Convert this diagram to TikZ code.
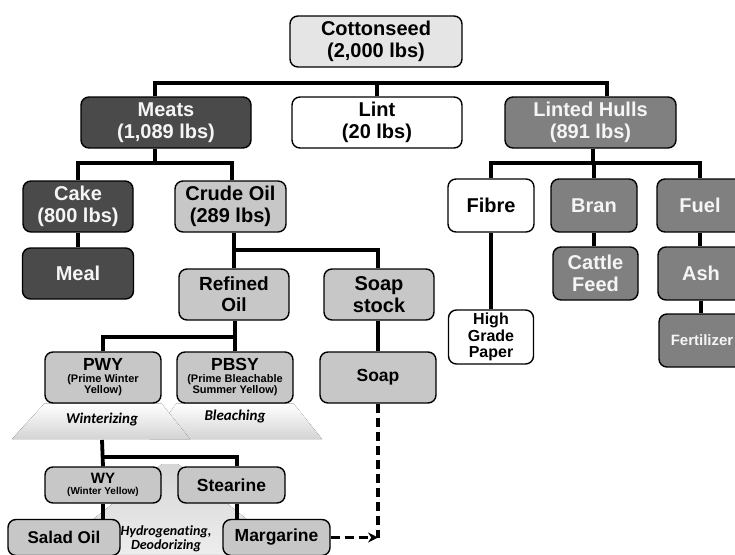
\documentclass[tikz,border=0pt]{standalone}
\usepackage{fontspec}
\setmainfont{Liberation Sans}
\newfontfamily\calibfont[Ligatures=NoCommon]{Carlito}
\usetikzlibrary{arrows.meta,backgrounds}

\definecolor{seedfill}{rgb}{0.900000, 0.900000, 0.900000}
\definecolor{darkfill}{rgb}{0.290000, 0.290000, 0.290000}
\definecolor{midfill}{rgb}{0.500000, 0.500000, 0.500000}
\definecolor{lightfill}{rgb}{0.780000, 0.780000, 0.780000}
\definecolor{softwhite}{rgb}{0.960000, 0.960000, 0.960000}

\newcommand{\tinyline}{\fontsize{11}{11}\selectfont}
\newcommand{\midline}{\fontsize{17.5}{20}\selectfont}

\tikzset{
  box/.style={draw=black, line width=1.4pt, rounded corners=8pt, align=center,
    inner sep=0pt, font=\bfseries\fontsize{20}{22}\selectfont},
  wh/.style 2 args={minimum width=#1pt, minimum height=#2pt},
  darkbox/.style={box, fill=darkfill, text=softwhite},
  midbox/.style={box, fill=midfill, text=softwhite},
  lightbox/.style={box, fill=lightfill},
  whitebox/.style={box, fill=white},
  link/.style={line width=3.8pt, black},
  dashlink/.style={line width=3.4pt, black, dash pattern=on 9pt off 5pt},
  procshade/.style={top color=white, bottom color=black!17, draw=none},
  procname/.style={font=\calibfont\bfseries\itshape\fontsize{15}{15}\selectfont, align=center},
}

\begin{document}
\begin{tikzpicture}[x=1pt, y=-1pt]
\useasboundingbox (0,0) rectangle (735,554);

% top
\node[box, fill=seedfill, wh={172}{51}] (cottonseed) at (376,41.5) {Cottonseed\\(2,000 lbs)};
\node[darkbox, wh={170}{51}] (meats) at (166,122.5) {Meats\\(1,089 lbs)};
\node[whitebox, wh={170}{51}] (lint) at (377,122.5) {Lint\\(20 lbs)};
\node[midbox, wh={171}{51}] (hulls) at (590.5,122.5) {Linted Hulls\\(891 lbs)};

% meats side
\node[darkbox, wh={110}{51}] (cake) at (78,206.5) {Cake\\(800 lbs)};
\node[darkbox, wh={111}{51}] (meal) at (78,273.5) {Meal};
\node[lightbox, wh={111}{51}] (crude) at (230.5,206.5) {Crude Oil\\(289 lbs)};
\node[lightbox, wh={110}{51}, font=\bfseries\fontsize{19}{21}\selectfont] (refined) at (234,294.5) {Refined\\Oil};
\node[lightbox, wh={110}{51}] (soapstock) at (379,294.5) {Soap\\stock};
\node[lightbox, wh={116}{51}, font=\bfseries\midline] (soap) at (378,377.5) {Soap};

% hulls side
\node[whitebox, wh={86}{53}] (fibre) at (491,205.5) {Fibre};
\node[whitebox, wh={85}{54}, font=\bfseries\fontsize{16}{16.5}\selectfont] (paper) at (491,337) {High\\Grade\\Paper};
\node[midbox, wh={86}{53}] (bran) at (594,205.5) {Bran};
\node[midbox, wh={85}{53}] (cattle) at (595.5,273.5) {Cattle\\Feed};
\node[midbox, wh={86}{53}] (fuel) at (700,205.5) {Fuel};
\node[midbox, wh={86}{53}] (ash) at (701,273.5) {Ash};
\node[midbox, wh={86}{53}, font=\bfseries\fontsize{15}{17}\selectfont] (fertilizer) at (702,340.5) {Fertilizer};

% oil grades
\node[lightbox, wh={116}{51}, font=\bfseries\tinyline] (pwy) at (103,377.5) {\midline PWY\\[1pt]\tinyline (Prime Winter\\\tinyline Yellow)};
\node[lightbox, wh={116}{51}, font=\bfseries\tinyline] (pbsy) at (235,377.5) {\midline PBSY\\[1pt]\tinyline (Prime Bleachable\\\tinyline Summer Yellow)};
\node[lightbox, wh={116}{36}, font=\bfseries\fontsize{10}{11}\selectfont] (wy) at (103,485) {\fontsize{15}{15}\selectfont WY\\\fontsize{10}{10}\selectfont (Winter Yellow)};
\node[lightbox, wh={107}{36}, font=\bfseries\midline] (stearine) at (231.5,485) {Stearine};
\node[lightbox, wh={112}{36}, font=\bfseries\fontsize{17}{20}\selectfont] (salad) at (64,537.5) {Salad Oil};
\node[lightbox, wh={107}{36}, font=\bfseries\midline] (margarine) at (276.5,537.5) {Margarine};

% process labels
\node[procname] (winterizing) at (102,419) {Winterizing};
\node[procname] (bleaching) at (235,416) {Bleaching};
\node[procname, font=\calibfont\bfseries\itshape\fontsize{14}{14.5}\selectfont] (hydro) at (166,539) {Hydrogenating,\\Deodorizing};

\begin{pgfonlayer}{background}
\fill[procshade] (pbsy.south west) -- (pbsy.south east) -- (322,439) -- (150,439) -- cycle;
\fill[procshade] (pwy.south west) -- (pwy.south east) -- (190,439) -- (12,439) -- cycle;
\fill[top color=black!16, bottom color=black!7, draw=none] (162,464) -- (178,464) -- (290,554) -- (50,554) -- cycle;
\end{pgfonlayer}

% connectors
\coordinate (seedbar) at (377,83);
\coordinate (meatsbar) at (155,163);
\coordinate (hullsbar) at (593,163);
\coordinate (crudebar) at (378,250);
\coordinate (refbar) at (236,337);
\coordinate (winter) at (102,440);
\coordinate (winterbar) at (102,457);
\draw[link] ([xshift=-11pt]meats.north) |- (seedbar) -| ([xshift=16.5pt]hulls.north);
\draw[link] (lint.north) -- (lint.north |- seedbar);
\draw[link] (meats.south -| meatsbar) -- (meatsbar);
\draw[link] (cake.north) |- (meatsbar) -| ([xshift=1.5pt]crude.north);
\draw[link] (cake.south) -- (meal.north);
\draw[link] (refined.north |- crude.south) -- (refined.north);
\draw[link] (refined.north |- crudebar) -| (soapstock.north -| crudebar);
\draw[link] (soapstock.south -| soap.north) -- (soap.north);
\draw[link] (hulls.south -| hullsbar) -- (hullsbar);
\draw[link] (fibre.north) |- (hullsbar) -| (fuel.north);
\draw[link] (bran.north) -- (bran.north |- hullsbar);
\draw[link] (fibre.south) -- (paper.north);
\draw[link] (bran.south) -- (bran.south |- cattle.north);
\draw[link] (fuel.south) -- (fuel.south |- ash.north);
\draw[link] (ash.south) -- (ash.south |- fertilizer.north);
\draw[link] ([xshift=1pt]refined.south) -- ([xshift=1pt]refined.south |- pbsy.north);
\draw[link] (pwy.north) |- (refbar);
\draw[link] (winter) -- (wy.north);
\draw[link] (winterbar) -| ([xshift=5.5pt]stearine.north);
\draw[link] ([xshift=5.5pt]stearine.south) -- ([xshift=5.5pt]stearine.south |- margarine.north);
\draw[link] (wy.south) -- (wy.south |- salad.north);

\coordinate (soapend) at (soap.south |- margarine.east);
\draw[dashlink] (soap.south) -- (soapend);
\draw[dashlink, -{Stealth[length=10pt, width=10pt]}] (margarine.east) -- (soapend);
\end{tikzpicture}
\end{document}
